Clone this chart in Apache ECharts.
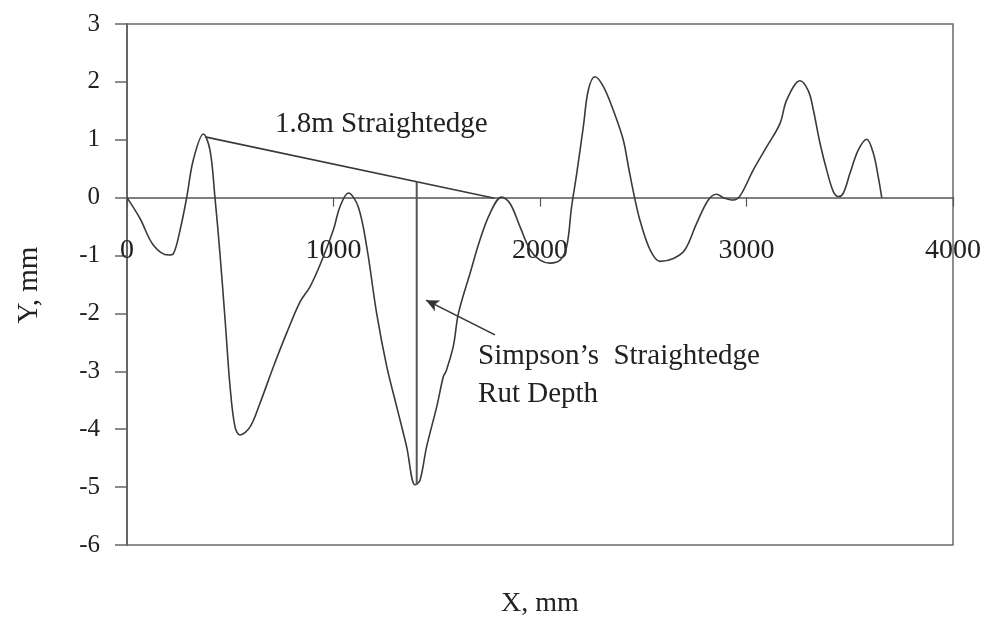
<!DOCTYPE html>
<html><head><meta charset="utf-8">
<script src="https://cdn.jsdelivr.net/npm/echarts@6/dist/echarts.min.js"></script>
<style>html,body{margin:0;background:#fff}#c{width:993px;height:620px}</style>
</head><body><div id="c"></div>
<script>
// Profile (X mm, Y mm)
const profileX = [0, 63, 128, 200, 224, 257, 289, 321, 370, 402, 426, 450, 475, 499, 523, 547, 596, 644, 709, 773, 838, 886, 935, 999, 1031, 1072, 1120, 1161, 1209, 1258, 1306, 1354, 1395, 1419, 1451, 1500, 1532, 1545, 1580, 1605, 1661, 1709, 1758, 1814, 1855, 1903, 1952, 2000, 2048, 2097, 2129, 2153, 2178, 2210, 2234, 2266, 2307, 2355, 2403, 2430, 2458, 2484, 2533, 2581, 2646, 2702, 2759, 2815, 2856, 2888, 2936, 2969, 3033, 3098, 3162, 3195, 3259, 3300, 3324, 3356, 3388, 3421, 3445, 3469, 3501, 3541, 3582, 3614, 3638, 3655];
const profileY = [0, -0.36, -0.82, -0.99, -0.97, -0.56, 0, 0.65, 1.10, 0.82, 0, -0.96, -2.11, -3.26, -3.96, -4.10, -3.96, -3.55, -2.92, -2.34, -1.80, -1.54, -1.16, -0.56, -0.16, 0.08, -0.16, -0.85, -2.0, -2.92, -3.61, -4.30, -4.96, -4.88, -4.30, -3.61, -3.09, -3.0, -2.57, -2.0, -1.31, -0.73, -0.27, 0.01, -0.10, -0.50, -0.90, -1.08, -1.13, -1.08, -0.85, -0.16, 0.42, 1.23, 1.86, 2.09, 1.92, 1.51, 1.00, 0.50, 0.0, -0.39, -0.90, -1.10, -1.05, -0.90, -0.44, -0.04, 0.06, 0.0, -0.04, 0.03, 0.48, 0.88, 1.28, 1.69, 2.02, 1.84, 1.51, 0.94, 0.48, 0.10, 0.02, 0.08, 0.42, 0.82, 1.01, 0.77, 0.36, 0.0];

// Annotations (data coordinates)
const straightedgeX = [378, 1780];
const straightedgeY = [1.05, -0.01];
const rutX = [1403, 1403];
const rutY = [0.275, -4.96];
const arrowFrom = [1782, -2.37];
const arrowTo = [1448, -1.77];
const noteTexts = ['1.8m Straightedge', 'Simpson\u2019s  Straightedge', 'Rut Depth'];
const noteX = [717, 1700, 1700];
const noteY = [1.27, -2.75, -3.39];

// Axes
const xMin = 0, xMax = 4000, xStep = 1000;
const yMin = -6, yMax = 3, yStep = 1;

const FONT = "'Liberation Serif', 'Times New Roman', serif";
const chart = echarts.init(document.getElementById('c'), null, {renderer: 'canvas'});

const zip = (a, b) => a.map((v, i) => [v, b[i]]);
const GRID = {left: 127, top: 24, right: 40, bottom: 75};

chart.setOption({
  animation: false,
  backgroundColor: '#fff',
  grid: Object.assign({show: true, borderColor: '#6a6a6a', borderWidth: 1.5, backgroundColor: 'transparent'}, GRID),
  xAxis: {
    type: 'value', min: xMin, max: xMax, interval: xStep, position: 'bottom', offset: 0,
    axisLine: {onZero: false, lineStyle: {color: '#555', width: 1.5}},
    axisTick: {show: true, inside: false, length: 9, lineStyle: {color: '#555', width: 1.2}},
    axisLabel: {margin: 39, fontSize: 28, fontFamily: FONT, color: '#222', formatter: v => String(v)},
    splitLine: {show: false}
  },
  yAxis: {
    type: 'value', min: yMin, max: yMax, interval: yStep,
    axisLine: {show: true, onZero: false, lineStyle: {color: '#666', width: 2}},
    axisTick: {show: true, inside: false, length: 12, lineStyle: {color: '#666', width: 1.5}},
    axisLabel: {margin: 27, fontSize: 25, fontFamily: FONT, color: '#222', formatter: v => String(v)},
    splitLine: {show: false}
  },
  series: [
    {type: 'line', data: zip(profileX, profileY), smooth: 0.35, showSymbol: false, symbol: 'none',
     lineStyle: {color: '#3a3a3a', width: 1.6}, z: 3},
    {type: 'line', data: zip(straightedgeX, straightedgeY), showSymbol: false, symbol: 'none',
     lineStyle: {color: '#3a3a3a', width: 1.6}, z: 4},
    {type: 'line', data: zip(rutX, rutY), showSymbol: false, symbol: 'none',
     lineStyle: {color: '#555', width: 2}, z: 4,
     markLine: {silent: true, symbol: ['none', 'arrow'], symbolSize: [9, 13], label: {show: false},
       lineStyle: {color: '#333', width: 1.6, type: 'solid'},
       data: [[{coord: arrowFrom}, {coord: arrowTo}]]}}
  ]
});

// move the x axis (line, ticks, labels) up to y = 0
const zeroPx = chart.convertToPixel({yAxisIndex: 0}, 0);
const bottomPx = chart.convertToPixel({yAxisIndex: 0}, yMin);
chart.setOption({xAxis: {offset: -(bottomPx - zeroPx)}});

const texts = noteTexts.map((t, i) => {
  const p = chart.convertToPixel({gridIndex: 0}, [noteX[i], noteY[i]]);
  return {type: 'text', x: p[0], y: p[1],
    style: {text: t, fontSize: 29, fontFamily: FONT, fill: '#222', align: 'left', verticalAlign: 'middle'}, z: 10};
});
texts.push({type: 'text', x: 540, y: 604, style: {text: 'X, mm', fontSize: 28, fontFamily: FONT, fill: '#222', align: 'center', verticalAlign: 'middle'}});
texts.push({type: 'text', x: 29, y: 285, rotation: Math.PI / 2, style: {text: 'Y, mm', fontSize: 29, fontFamily: FONT, fill: '#222', align: 'center', verticalAlign: 'middle'}});
chart.setOption({graphic: texts});
</script>
</body></html>
